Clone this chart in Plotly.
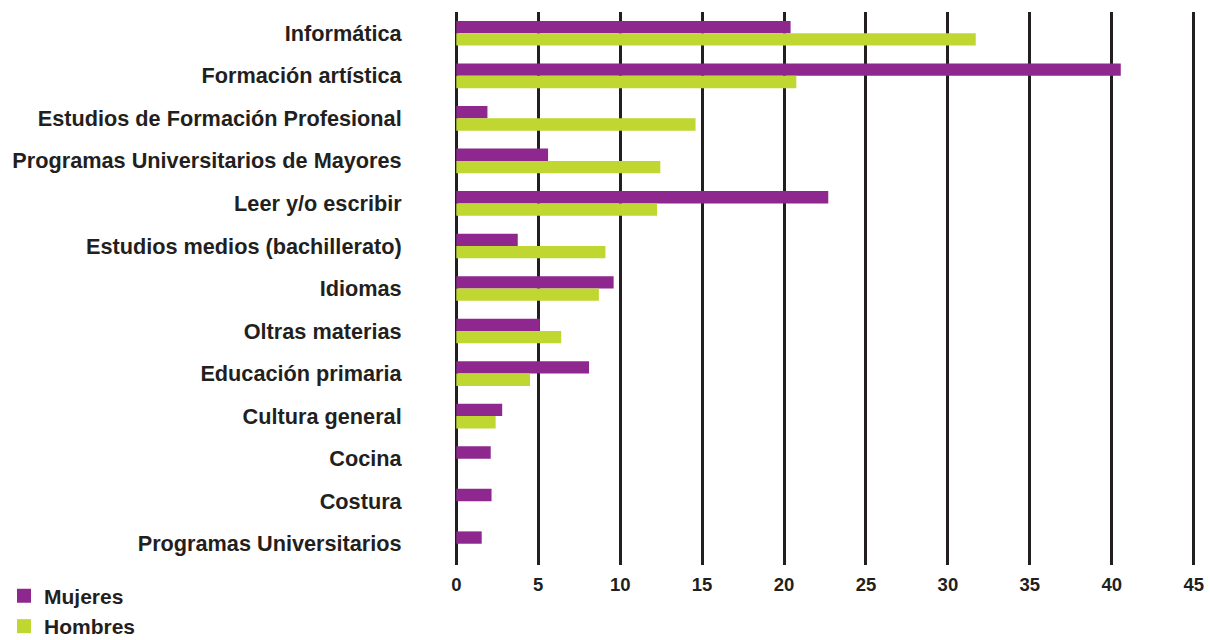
import plotly.graph_objects as go

categories = [
    "Informática",
    "Formación artística",
    "Estudios de Formación Profesional",
    "Programas Universitarios de Mayores",
    "Leer y/o escribir",
    "Estudios medios (bachillerato)",
    "Idiomas",
    "Oltras materias",
    "Educación primaria",
    "Cultura general",
    "Cocina",
    "Costura",
    "Programas Universitarios",
]
mujeres = [20.4, 40.55, 1.9, 5.6, 22.7, 3.75, 9.6, 5.1, 8.1, 2.8, 2.1, 2.15, 1.55]
hombres = [31.7, 20.75, 14.6, 12.45, 12.25, 9.1, 8.7, 6.4, 4.5, 2.4, None, None, None]
x_ticks = [0, 5, 10, 15, 20, 25, 30, 35, 40, 45]
series_names = ["Mujeres", "Hombres"]

FONT = "Liberation Sans"
TXT = "#231f20"
PURPLE = "#8e288e"
GREEN = "#bfd730"

fig = go.Figure()
fig.add_trace(go.Bar(y=categories, x=mujeres, orientation="h", name=series_names[0],
                     marker=dict(color=PURPLE, line=dict(width=0)), showlegend=False))
fig.add_trace(go.Bar(y=categories, x=hombres, orientation="h", name=series_names[1],
                     marker=dict(color=GREEN, line=dict(width=0)), showlegend=False))
# legend entries (square swatches)
fig.add_trace(go.Scatter(x=[None], y=[None], mode="markers", name=series_names[0],
                         marker=dict(symbol="square", size=14, color=PURPLE),
                         legend="legend", hoverinfo="skip"))
fig.add_trace(go.Scatter(x=[None], y=[None], mode="markers", name=series_names[1],
                         marker=dict(symbol="square", size=14, color=GREEN),
                         legend="legend2", hoverinfo="skip"))

L, R, T, B = 455, 15, 12, 75
W, H = 1210, 640
ph = H - T - B
pw = W - L - R

def px_x(p):
    return (p - L) / pw

def px_y(p):
    return (H - B - p) / ph

legend_common = dict(
    xanchor="left", yanchor="middle", bgcolor="rgba(0,0,0,0)",
    font=dict(family=FONT, size=21, color=TXT, weight="bold"),
    borderwidth=0, itemsizing="trace",
)

fig.update_layout(
    width=W, height=H,
    margin=dict(l=L, r=R, t=T, b=B, autoexpand=False),
    paper_bgcolor="white", plot_bgcolor="white",
    barmode="group", bargap=0.42, bargroupgap=0,
    font=dict(family=FONT, color=TXT),
    legend=dict(x=px_x(4), y=px_y(596), **legend_common),
    legend2=dict(x=px_x(4), y=px_y(626.5), **legend_common),
    xaxis=dict(
        range=[-0.08, 45.08], tickvals=x_ticks, ticktext=[str(v) for v in x_ticks],
        showgrid=True, gridcolor=TXT, gridwidth=2.5,
        zeroline=True, zerolinecolor=TXT, zerolinewidth=2.5,
        showline=False, ticks="outside", ticklen=3, tickcolor="rgba(0,0,0,0)",
        tickfont=dict(family=FONT, size=18.5, color=TXT, weight="bold"),
        fixedrange=True,
    ),
    yaxis=dict(
        autorange="reversed", showgrid=False, zeroline=False, showline=False,
        ticks="outside", ticklen=48, tickcolor="rgba(0,0,0,0)",
        tickfont=dict(family=FONT, size=21.7, color=TXT, weight="bold"),
        fixedrange=True,
    ),
    showlegend=True,
)

fig.write_html("out.html", config={"displayModeBar": False},
               post_script="document.body.style.margin='0';")
